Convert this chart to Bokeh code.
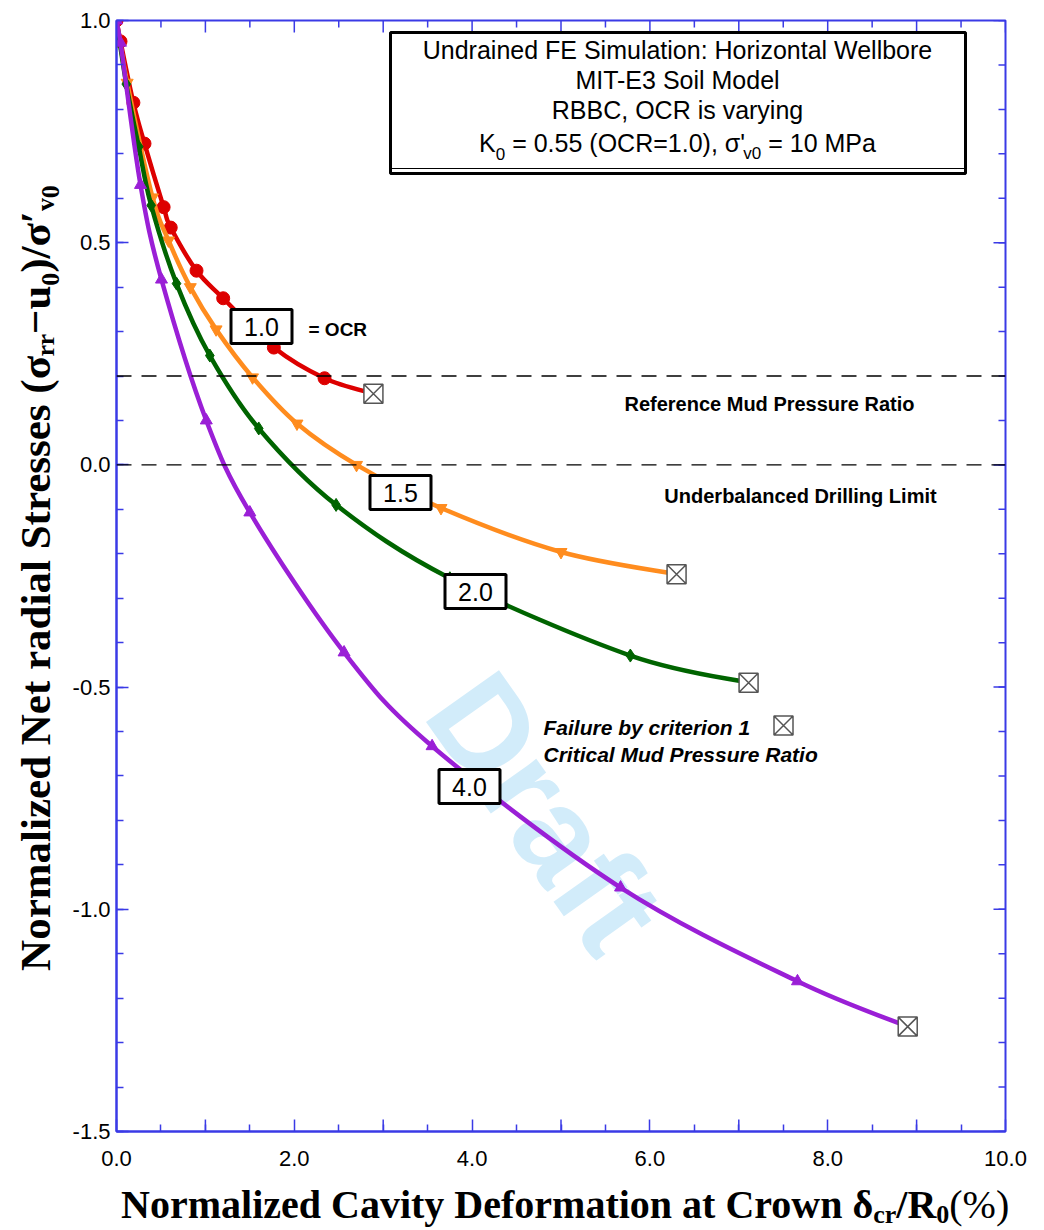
import math
from bokeh.plotting import figure
from bokeh.layouts import row, column
from bokeh.models import LinearAxis, FixedTicker, Span, Label, BoxAnnotation, NumeralTickFormatter
from bokeh.core.properties import value
from bokeh.embed import file_html
from bokeh.resources import INLINE

# ---------------- data ----------------
# each series ends at its failure point (criterion 1)
ocr10_x = [0.0, 0.045, 0.19, 0.315, 0.53, 0.61, 0.90, 1.20, 1.77, 2.34, 2.89]
ocr10_y = [1.0, 0.953, 0.815, 0.723, 0.58, 0.534, 0.437, 0.375, 0.264, 0.195, 0.16]

ocr15_x = [0.0, 0.12, 0.405, 0.585, 0.83, 1.12, 1.53, 2.03, 2.70, 3.65, 5.00, 6.30]
ocr15_y = [1.0, 0.86, 0.602, 0.505, 0.40, 0.305, 0.197, 0.093, 0.0, -0.097, -0.196, -0.246]

ocr20_x = [0.0, 0.11, 0.25, 0.39, 0.675, 1.05, 1.60, 2.47, 3.75, 5.78, 7.11]
ocr20_y = [1.0, 0.857, 0.716, 0.584, 0.408, 0.246, 0.082, -0.09, -0.255, -0.429, -0.49]

ocr40_x = [0.0, 0.045, 0.27, 0.506, 1.01, 1.50, 2.56, 3.55, 5.67, 7.66, 8.90]
ocr40_y = [1.0, 0.95, 0.63, 0.417, 0.10, -0.107, -0.422, -0.633, -0.951, -1.162, -1.264]

ocr_labels = ["1.0", "1.5", "2.0", "4.0"]
ref_levels = [0.2, 0.0]          # reference mud pressure ratio, underbalanced drilling limit
x_label_ticks = [0, 2, 4, 6, 8, 10]
x_long_ticks = list(range(0, 11))
x_short_ticks = [i + 0.5 for i in range(10)]
y_major_ticks = [-1.5, -1.0, -0.5, 0.0, 0.5, 1.0]
y_minor_ticks = [round(-1.5 + 0.1 * i, 2) for i in range(26)]

# ---------------- layout ----------------
YLW = 64                      # width of the y-title strip
BL, BT, FW, FH, BR, BB = 116, 20, 889, 1111, 39, 48
XLH = 1230 - (BT + FH + BB)   # height of the x-title strip
X0, X1, Y0, Y1 = 0.0, 10.0, -1.5, 1.0
BASE_FIX = 0.29               # "alphabetic" anchors land this many em above the drawn baseline


def dx(px):
    return X0 + (px - BL) / FW * (X1 - X0)


def dy(py):
    return Y1 - (py - BT) / FH * (Y1 - Y0)


# approximate advance widths (em) of Liberation Serif Bold
TB = {' ': .25, '(': .333, ')': .333, '%': 1.0, '/': .278, 'N': .722, 'o': .5, 'r': .444,
      'm': .833, 'a': .5, 'l': .278, 'i': .278, 'z': .444, 'e': .444, 'd': .556, 'C': .722,
      'v': .5, 't': .333, 'y': .5, 'D': .722, 'f': .333, 'n': .556, 'w': .722, 'R': .722,
      'S': .556, 's': .389, 'u': .556, 'c': .444, '0': .5, 'δ': .5, 'σ': .6, '−': .57, '′': .3}
# approximate advance widths (em) of Liberation Sans
TA = {'K': .667, '0': .556, '1': .556, '5': .556, '.': .278, ' ': .278, '\u00a0': .278, '=': .584,
      '(': .333, ')': .333, 'O': .778, 'C': .722, 'R': .722, ',': .278, 'σ': .55, "'": .191,
      'v': .5, 'M': .833, 'P': .667, 'a': .556}


def tw(s, size, table):
    return sum(table.get(c, .5) for c in s) * size


AX = "#3a3ae6"
RED, ORANGE, GREEN, PURPLE = "#dd0000", "#ff8c1e", "#006400", "#9a1fd6"

p = figure(x_range=(X0, X1), y_range=(Y0, Y1), frame_width=FW, frame_height=FH, title=None,
           min_border_left=BL - YLW, min_border_right=BR, min_border_top=BT, min_border_bottom=BB,
           output_backend="svg", toolbar_location=None,
           x_axis_location=None, y_axis_location=None)
p.grid.visible = False
p.outline_line_color = AX
p.outline_line_width = 2
p.background_fill_color = "white"
p.border_fill_color = "white"


def style(ax):
    ax.axis_line_color = AX
    ax.axis_line_width = 2
    ax.major_tick_line_color = AX
    ax.minor_tick_line_color = AX
    ax.major_tick_line_width = 1.5
    ax.minor_tick_line_width = 1.5
    ax.major_tick_in = 12
    ax.major_tick_out = 0
    ax.minor_tick_in = 7
    ax.minor_tick_out = 0
    ax.major_label_text_font = "Liberation Sans"
    ax.major_label_text_font_size = "22px"
    ax.major_label_text_color = "black"


bottom = LinearAxis(ticker=FixedTicker(ticks=x_label_ticks,
                                       minor_ticks=[t for t in x_short_ticks + x_long_ticks
                                                    if t not in x_label_ticks]),
                    formatter=NumeralTickFormatter(format="0.0"))
style(bottom)
bottom.major_label_standoff = 19
p.add_layout(bottom, "below")

left = LinearAxis(ticker=FixedTicker(ticks=y_major_ticks, minor_ticks=y_minor_ticks),
                  formatter=NumeralTickFormatter(format="0.0"))
style(left)
left.major_label_standoff = 6
p.add_layout(left, "left")

# long ticks at odd integers on the bottom axis, and mirrored ticks on top / right
odd = [t for t in x_long_ticks if t not in x_label_ticks]
p.ray(x=odd, y=[Y0] * len(odd), length=12, angle=math.pi / 2, length_units="screen",
      line_color=AX, line_width=1.5)
p.ray(x=x_long_ticks, y=[Y1] * len(x_long_ticks), length=12, angle=-math.pi / 2,
      length_units="screen", line_color=AX, line_width=1.5)
p.ray(x=x_short_ticks, y=[Y1] * len(x_short_ticks), length=7, angle=-math.pi / 2,
      length_units="screen", line_color=AX, line_width=1.5)
p.ray(x=[X1] * len(y_major_ticks), y=y_major_ticks, length=12, angle=math.pi,
      length_units="screen", line_color=AX, line_width=1.5)
p.ray(x=[X1] * len(y_minor_ticks), y=y_minor_ticks, length=7, angle=math.pi,
      length_units="screen", line_color=AX, line_width=1.5)

# watermark
p.add_layout(Label(x=dx(545), y=dy(812), text="Draft", angle=-0.953, text_align="center",
                   text_baseline="middle", text_font="Liberation Sans", text_font_style="bold",
                   text_font_size="130px", text_color="#d2ecfa", level="underlay"))

# reference lines
for lv in ref_levels:
    p.add_layout(Span(location=lv, dimension="width", line_color="black", line_width=1.3,
                      line_dash="15 10"))


def smooth_segments(xs, ys):
    """Cubic Bezier pieces passing through every read point (Catmull-Rom tangents, clamped)."""
    n = len(xs)
    out = {k: [] for k in ("x0", "y0", "x1", "y1", "cx0", "cy0", "cx1", "cy1")}
    for i in range(n - 1):
        xa, ya, xb, yb = xs[i], ys[i], xs[i + 1], ys[i + 1]
        xp, yp = (xs[i - 1], ys[i - 1]) if i > 0 else (xa, ya)
        xn, yn = (xs[i + 2], ys[i + 2]) if i + 2 < n else (xb, yb)
        c0x, c0y = xa + (xb - xp) / 6, ya + (yb - yp) / 6
        c1x, c1y = xb - (xn - xa) / 6, yb - (yn - ya) / 6
        lo_x, hi_x = min(xa, xb), max(xa, xb)
        lo_y, hi_y = min(ya, yb), max(ya, yb)
        c0x, c1x = min(max(c0x, lo_x), hi_x), min(max(c1x, lo_x), hi_x)
        c0y, c1y = min(max(c0y, lo_y), hi_y), min(max(c1y, lo_y), hi_y)
        for k, v in zip(out, (xa, ya, xb, yb, c0x, c0y, c1x, c1y)):
            out[k].append(v)
    return out


series = [
    (ocr10_x, ocr10_y, RED, "circle", 13),
    (ocr15_x, ocr15_y, ORANGE, "inverted_triangle", 12),
    (ocr20_x, ocr20_y, GREEN, "diamond", 13),
    (ocr40_x, ocr40_y, PURPLE, "triangle", 12),
]
for xs, ys, col, mk, sz in series:
    p.bezier(**smooth_segments(xs, ys), line_color=col, line_width=4.5, line_cap="round")
    p.scatter(xs[:-1], ys[:-1], marker=mk, size=sz, color=col)

fail_x = [s[0][-1] for s in series]
fail_y = [s[1][-1] for s in series]
p.scatter(fail_x, fail_y, marker="square_x", size=19, fill_color="white",
          line_color="#555555", line_width=1.5)

# OCR label boxes
lab_px = [(261, 326), (400, 492), (475, 591), (469, 786)]
lx = [dx(a) for a, b in lab_px]
ly = [dy(b) for a, b in lab_px]
p.rect(x=lx, y=ly, width=61, height=34, width_units="screen", height_units="screen",
       fill_color="white", line_color="black", line_width=3)
p.text(x=lx, y=ly, text=ocr_labels, text_align="center", text_baseline="middle",
       text_font=value("Liberation Sans"), text_font_size="25px", text_color="black")


def note(x, y, txt, size, style="bold", align="left"):
    p.add_layout(Label(x=dx(x), y=dy(y), text=txt, text_align=align, text_baseline="middle",
                       text_font="Liberation Sans", text_font_style=style,
                       text_font_size=f"{size}px", text_color="black"))


note(308, 329, "= OCR", 19)
note(769, 403, "Reference Mud Pressure Ratio", 20, align="center")
note(800, 495, "Underbalanced Drilling Limit", 20, align="center")
note(543, 727, "Failure by criterion 1", 21, style="bold italic")
note(543, 754, "Critical Mud Pressure Ratio", 21, style="bold italic")
p.scatter([dx(783)], [dy(725)], marker="square_x", size=19, fill_color="white",
          line_color="#555555", line_width=1.5)

# info box
p.add_layout(BoxAnnotation(left=dx(390), right=dx(965), top=dy(32), bottom=dy(173),
                           fill_color="white", fill_alpha=1.0, line_color="black", line_width=3,
                           line_alpha=1.0))
p.add_layout(BoxAnnotation(left=dx(390), right=dx(965), top=dy(32), bottom=dy(168),
                           fill_alpha=0.0, line_color="black", line_width=1, line_alpha=1.0))
for txt, yy in [("Undrained FE Simulation: Horizontal Wellbore", 49),
                ("MIT-E3 Soil Model", 79), ("RBBC, OCR is varying", 109)]:
    note(677, yy, txt, 25, style="normal", align="center")
k_pieces = [("K", 25, 0), ("0", 17, 8), ("\u00a0=\u00a00.55 (OCR=1.0), σ'", 25, 0),
            ("v0", 17, 8), ("\u00a0=\u00a010 MPa", 25, 0)]
cur = 677 - sum(tw(t, s, TA) for t, s, _ in k_pieces) / 2
for txt, sz, sh in k_pieces:
    p.add_layout(Label(x=dx(cur), y=dy(150 + sh - BASE_FIX * sz), text=txt, text_align="left",
                       text_baseline="alphabetic", text_font="Liberation Sans",
                       text_font_size=f"{sz}px", text_color="black"))
    cur += tw(txt, sz, TA)

# ---------------- axis titles in their own strips ----------------
H_MAIN = BT + FH + BB
ylab = figure(width=YLW, height=H_MAIN, x_range=(0, YLW), y_range=(H_MAIN, 0), min_border=0,
              title=None, output_backend="svg", toolbar_location=None,
              x_axis_location=None, y_axis_location=None)
ylab.grid.visible = False
ylab.outline_line_color = None
YT = 43
ylab.add_layout(Label(x=47 - BASE_FIX * YT, y=586,
                      text="Normalized Net radial Stresses  (σᵣᵣ−u₀)/σ′ᵥ₀",
                      angle=math.pi / 2, text_align="center", text_baseline="alphabetic",
                      text_font="Liberation Serif", text_font_style="bold",
                      text_font_size=f"{YT}px", text_color="black"))

TOTAL_W = YLW + (BL - YLW) + FW + BR
xlab = figure(width=TOTAL_W, height=XLH, x_range=(0, TOTAL_W), y_range=(XLH, 0), min_border=0,
              title=None, output_backend="svg", toolbar_location=None,
              x_axis_location=None, y_axis_location=None)
xlab.grid.visible = False
xlab.outline_line_color = None

XT, XS = 40, 26
xs_pieces = [("Normalized Cavity Deformation at Crown δ", XT, "bold", 0),
             ("cr", XS, "bold", 6), ("/R", XT, "bold", 0), ("0", XS, "bold", 6),
             ("(%)", XT, "normal", 0)]
cur = 568 - sum(tw(t, s, TB) for t, s, _, _ in xs_pieces) / 2
for txt, sz, sty, sh in xs_pieces:
    xlab.add_layout(Label(x=cur, y=1216 + sh - BASE_FIX * sz - H_MAIN, text=txt,
                          text_align="left", text_baseline="alphabetic",
                          text_font="Liberation Serif", text_font_style=sty,
                          text_font_size=f"{sz}px", text_color="black"))
    cur += tw(txt, sz, TB)

layout = column(row(ylab, p, spacing=0), xlab, spacing=0)
open("out.html", "w").write(file_html(layout, INLINE))
